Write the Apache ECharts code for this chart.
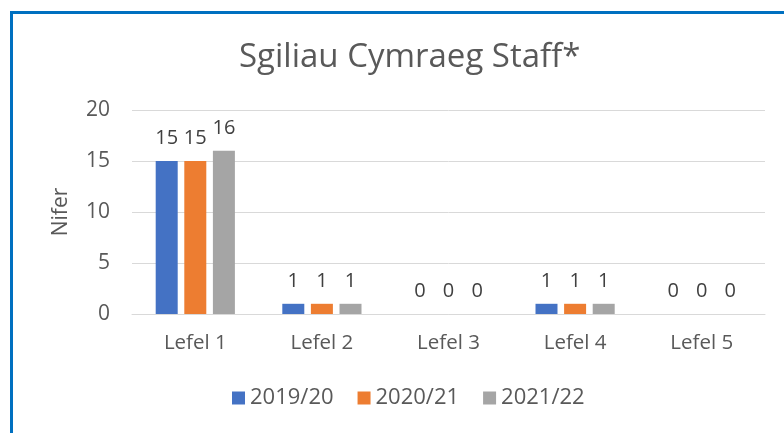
<!DOCTYPE html>
<html>
<head>
<meta charset="utf-8">
<script src="https://cdn.jsdelivr.net/npm/echarts@6/dist/echarts.min.js"></script>
<style>
  html, body { margin: 0; padding: 0; background: #fff; }
  #chart { width: 784px; height: 433px; position: relative; }
  /* blue frame, only top and left edges visible in the crop */
  .frame {
    position: absolute; left: 10px; top: 11px; right: 0; bottom: 0;
    border-top: 3px solid #0070c0; border-left: 3px solid #0070c0;
    pointer-events: none;
  }
</style>
</head>
<body>
<div id="chart"></div>
<div class="frame"></div>
<script>
// data
const categories = ['Lefel 1', 'Lefel 2', 'Lefel 3', 'Lefel 4', 'Lefel 5']
const years = ['2019/20', '2020/21', '2021/22']
const values2019 = [15, 1, 0, 1, 0]
const values2020 = [15, 1, 0, 1, 0]
const values2021 = [16, 1, 0, 1, 0]
const yTicks = [0, 5, 10, 15, 20]

const colors = ['#4472c4', '#ed7d31', '#a5a5a5']
const font = '"Open Sans", "Noto Sans", sans-serif'

const chart = echarts.init(document.getElementById('chart'))

const makeSeries = (name, data, i) => ({
  name: name,
  type: 'bar',
  data: data,
  barWidth: 22,
  barGap: '30%',
  itemStyle: { color: colors[i] },
  label: {
    show: true,
    position: 'top',
    distance: 13,
    color: '#404040',
    fontSize: 20,
    fontFamily: font
  }
})

chart.setOption({
  animation: false,
  title: {
    text: 'Sgiliau Cymraeg Staff*',
    left: 234,
    top: 36,
    textStyle: { color: '#595959', fontSize: 33, fontWeight: 'normal', fontFamily: font }
  },
  legend: {
    bottom: 19,
    left: 227,
    itemWidth: 13,
    itemHeight: 13,
    itemGap: 24,
    icon: 'rect',
    textStyle: { color: '#595959', fontSize: 22, fontFamily: font }
  },
  grid: { left: 132, right: 19, top: 110, bottom: 119 },
  xAxis: {
    type: 'category',
    data: categories,
    axisLine: { lineStyle: { color: '#d9d9d9', width: 1 } },
    axisTick: { show: false },
    axisLabel: { color: '#595959', fontSize: 20.5, fontFamily: font, margin: 19 }
  },
  yAxis: {
    type: 'value',
    min: yTicks[0],
    max: yTicks[yTicks.length - 1],
    interval: 5,
    name: 'Nifer',
    nameLocation: 'middle',
    nameGap: 60,
    nameTextStyle: { color: '#595959', fontSize: 21, fontFamily: font },
    axisLine: { show: false },
    axisTick: { show: false },
    axisLabel: { color: '#595959', fontSize: 21, fontFamily: font, margin: 22 },
    splitLine: { lineStyle: { color: '#d9d9d9', width: 1 } }
  },
  series: [
    makeSeries(years[0], values2019, 0),
    makeSeries(years[1], values2020, 1),
    makeSeries(years[2], values2021, 2)
  ]
})
</script>
</body>
</html>
